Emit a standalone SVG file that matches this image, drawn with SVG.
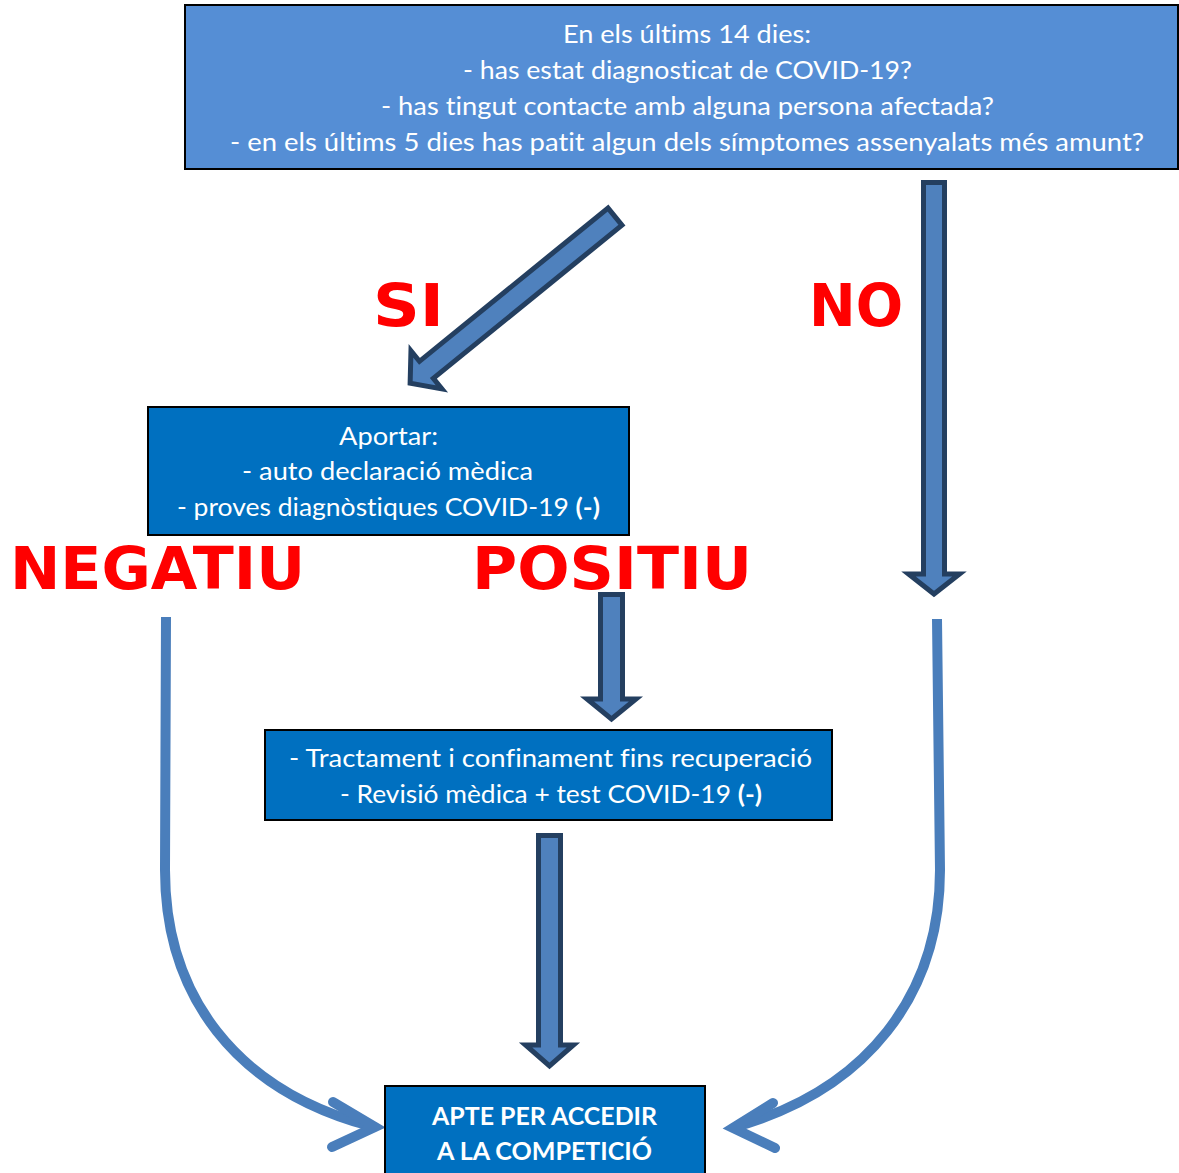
<svg xmlns="http://www.w3.org/2000/svg" width="1179" height="1173" viewBox="0 0 1179 1173">
<style>
.box{stroke:#000;stroke-width:2}
.q{fill:#558ED5}
.d{fill:#0070C0}
.t{font-family:Lato,"Open Sans","Liberation Sans",sans-serif;font-size:24.5px;fill:#fff;font-variant-ligatures:none;font-feature-settings:"liga" 0}
.b{font-weight:bold}
.lbl{font-family:"DejaVu Sans",Verdana,sans-serif;font-weight:bold;font-size:58px;fill:#FF0000}
.blk{fill:#4F81BD;stroke:#243F60;stroke-width:5;stroke-linejoin:miter}
.crv{fill:none;stroke:#4A7EBB;stroke-width:10}
.chev{fill:none;stroke:#4A7EBB;stroke-width:10;stroke-linecap:round;stroke-linejoin:miter}
</style>
<rect width="1179" height="1173" fill="#fff"/>

<g id="connectors">
  <polygon class="blk" transform="translate(615,216.6) rotate(50.9)" points="-11,0 11,0 11,243 24.5,243 0,264 -24.5,243 -11,243"/>
  <polygon class="blk" points="923.5,182.5 944.5,182.5 944.5,574 959.5,574 934,594 908.5,574 923.5,574"/>
  <polygon class="blk" points="600.5,594.5 622.5,594.5 622.5,699 636,699 611.5,719 587,699 600.5,699"/>
  <polygon class="blk" points="538.5,835.5 560.5,835.5 560.5,1045 573.5,1045 549.5,1066 525.5,1045 538.5,1045"/>
  <path class="crv" d="M166 617 L165 870 C165 995 235 1090 370 1126"/>
  <path class="chev" d="M333 1102 L375 1127 L332 1147"/>
  <path class="crv" d="M937 619 L940 870 C940 995 867 1090 735 1127"/>
  <path class="chev" d="M773 1103 L733 1128 L775 1148"/>
</g>

<g id="labels">
  <text class="lbl" x="373" y="326" textLength="71" lengthAdjust="spacingAndGlyphs">SI</text>
  <text class="lbl" x="809" y="326" textLength="94" lengthAdjust="spacingAndGlyphs">NO</text>
  <text class="lbl" x="10" y="589" textLength="295" lengthAdjust="spacingAndGlyphs">NEGATIU</text>
  <text class="lbl" x="472" y="589" textLength="280" lengthAdjust="spacingAndGlyphs">POSITIU</text>
</g>

<g id="node-question">
  <rect class="box q" x="185" y="5" width="993" height="164"/>
  <text class="t" x="563" y="43" textLength="248" lengthAdjust="spacingAndGlyphs">En els últims 14 dies:</text>
  <text class="t" x="463" y="79" textLength="449" lengthAdjust="spacingAndGlyphs">- has estat diagnosticat de COVID-19?</text>
  <text class="t" x="381" y="115" textLength="613" lengthAdjust="spacingAndGlyphs">- has tingut contacte amb alguna persona afectada?</text>
  <text class="t" x="230" y="151" textLength="914" lengthAdjust="spacingAndGlyphs">- en els últims 5 dies has patit algun dels símptomes assenyalats més amunt?</text>
</g>

<g id="node-aportar">
  <rect class="box d" x="148" y="407" width="481" height="128"/>
  <text class="t" x="339" y="445" textLength="99" lengthAdjust="spacingAndGlyphs">Aportar:</text>
  <text class="t" x="242" y="480" textLength="291" lengthAdjust="spacingAndGlyphs">- auto declaració mèdica</text>
  <text class="t" x="177" y="516" textLength="423" lengthAdjust="spacingAndGlyphs">- proves diagnòstiques COVID-19 <tspan class="b">(-)</tspan></text>
</g>

<g id="node-tractament">
  <rect class="box d" x="265" y="730" width="567" height="90"/>
  <text class="t" x="289" y="767" textLength="523" lengthAdjust="spacingAndGlyphs">- Tractament i confinament fins recuperació</text>
  <text class="t" x="340" y="803" textLength="422" lengthAdjust="spacingAndGlyphs">- Revisió mèdica + test COVID-19 <tspan class="b">(-)</tspan></text>
</g>

<g id="node-apte">
  <rect class="box d" x="385" y="1086" width="320" height="100"/>
  <text class="t b" x="432" y="1125" textLength="225" lengthAdjust="spacingAndGlyphs">APTE PER ACCEDIR</text>
  <text class="t b" x="437" y="1160" textLength="215" lengthAdjust="spacingAndGlyphs">A LA COMPETICIÓ</text>
</g>
</svg>
